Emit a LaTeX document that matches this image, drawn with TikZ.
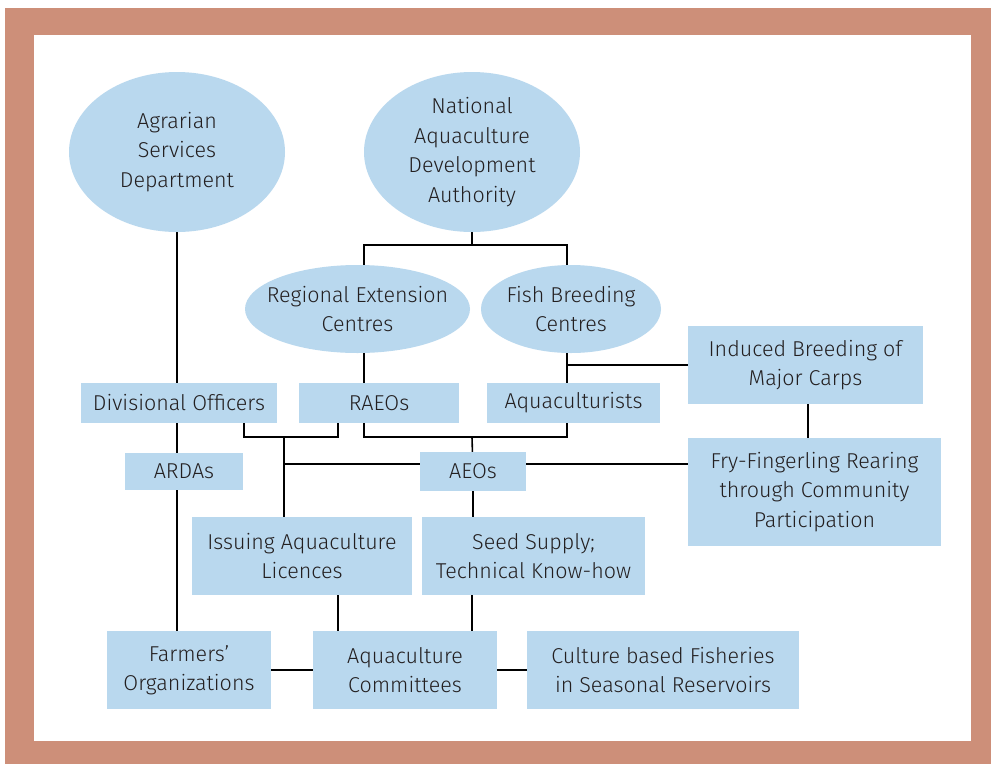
\documentclass[tikz,border=0pt]{standalone}
\usepackage{fontspec}
\setmainfont{Fira Sans}[UprightFont=* Light]
\usetikzlibrary{shapes.geometric,backgrounds}
\definecolor{frameC}{HTML}{CD8F79}
\definecolor{boxC}{HTML}{B9D8EE}
\definecolor{txtC}{HTML}{231F20}
\begin{document}
\begin{tikzpicture}[x=1pt,y=-1pt,
  every node/.style={font=\fontsize{21.5}{29.5}\selectfont,text=txtC,align=center,inner sep=0pt},
  oval/.style={ellipse,fill=boxC},
  bx/.style={rectangle,fill=boxC},
  conn/.style={draw=black,line width=1.6pt}]
\useasboundingbox (0,0) rectangle (991,764);
% ovals
\node[oval,minimum width=216,minimum height=160,label={center:Agrarian\\Services\\Department}] (asd) at (177,152) {};
\node[oval,minimum width=216,minimum height=160,label={center:National\\Aquaculture\\Development\\Authority}] (nada) at (472,152) {};
\node[oval,minimum width=225,minimum height=88,label={center:Regional Extension\\Centres}] (rec) at (357.5,309) {};
\node[oval,minimum width=180,minimum height=88,label={center:Fish Breeding\\Centres}] (fbc) at (571,309) {};
% boxes
\node[bx,minimum width=196,minimum height=40] (divoff) at (179,403) {Divisional Officers};
\node[bx,minimum width=160,minimum height=40] (raeo) at (379,403) {RAEOs};
\node[bx,minimum width=173,minimum height=40] (aquac) at (573.5,403) {Aquaculturists};
\node[bx,minimum width=235,minimum height=78] (induced) at (805.5,365) {Induced Breeding of\\Major Carps};
\node[bx,minimum width=118,minimum height=37] (ardas) at (184,471.5) {ARDAs};
\node[bx,minimum width=106,minimum height=39] (aeo) at (473,471.5) {AEOs};
\node[bx,minimum width=253,minimum height=108] (fry) at (814.5,492) {Fry-Fingerling Rearing\\through Community\\Participation};
\node[bx,minimum width=220,minimum height=78] (issue) at (302,556) {Issuing Aquaculture\\Licences};
\node[bx,minimum width=223,minimum height=78] (seed) at (533.5,556) {Seed Supply;\\Technical Know-how};
\node[bx,minimum width=164,minimum height=78] (farm) at (189,670) {Farmers’\\Organizations};
\node[bx,minimum width=184,minimum height=78] (acom) at (405,670) {Aquaculture\\Committees};
\node[bx,minimum width=272,minimum height=78] (cbf) at (663,670) {Culture based Fisheries\\in Seasonal Reservoirs};
% junction points
\coordinate (j1) at (472,245);
\coordinate (j2) at (472,437);
\coordinate (j3) at (284,437);
\coordinate (j4) at (284,464);
\coordinate (recx) at (364,306);
\coordinate (fbcx) at (567,306);
\coordinate (divx) at (244,403);
\coordinate (raex) at (338,403);
\begin{scope}[on background layer]
\fill[frameC] (5,8) rectangle (991,764);
\fill[white] (34,35) rectangle (971,741);
\draw[conn] (asd) -- (asd |- farm);
\draw[conn] (nada) -- (j1);
\draw[conn] (recx) |- (j1) -| (fbcx);
\draw[conn] (recx) |- (j2) -| (fbcx);
\draw[conn] (fbcx |- induced) -- (induced);
\draw[conn] (j2) -- (aeo);
\draw[conn] (divx) |- (j3) -| (raex);
\draw[conn] (j3) -- (j3 |- issue);
\draw[conn] (j4) -- (j4 -| fry);
\draw[conn] (808,365) -- (808,492);
\draw[conn] (aeo) -- (aeo |- seed);
\draw[conn] (338,556) -- (338,670);
\draw[conn] (472,556) -- (472,670);
\draw[conn] (farm) -- (cbf);
\end{scope}
\end{tikzpicture}
\end{document}
